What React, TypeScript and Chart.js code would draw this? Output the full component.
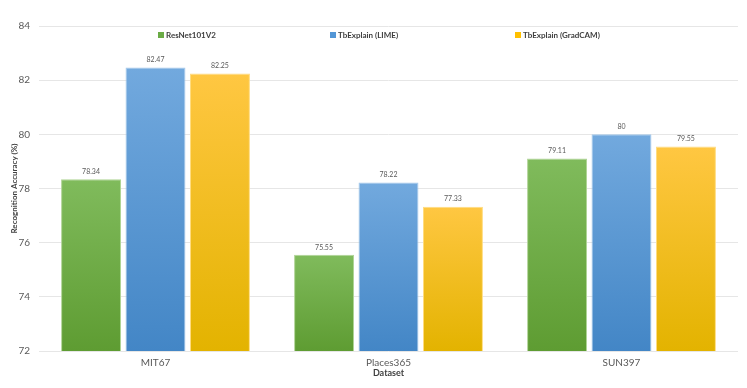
import React, { useEffect, useRef } from "react";
import { Chart, registerables } from "chart.js";
Chart.register(...registerables);

const categories = ["MIT67", "Places365", "SUN397"];
const resnetValues = [78.34, 75.55, 79.11];
const limeValues = [82.47, 78.22, 80];
const gradcamValues = [82.25, 77.33, 79.55];
const seriesNames = ["ResNet101V2", "TbExplain (LIME)", "TbExplain (GradCAM)"];
const yMin = 72;
const yMax = 84;
const yStep = 2;

const FONT = "Lato, 'Open Sans', sans-serif";

const palettes = [
  { top: "#80bb5c", bottom: "#5e9c32", border: "#b0d496", legend: "#6aab45" },
  { top: "#72a9de", bottom: "#4386c6", border: "#a4c8ea", legend: "#5396d6" },
  { top: "#ffc742", bottom: "#e3b300", border: "#ffdc80", legend: "#ffc000" },
];

function gradientFor(idx: number) {
  return (ctx: any) => {
    const chart = ctx.chart;
    const area = chart.chartArea;
    const p = palettes[idx];
    if (!area || ctx.raw === undefined) return p.legend;
    const y = chart.scales.y;
    const top = y.getPixelForValue(ctx.raw);
    const bottom = y.getPixelForValue(yMin);
    const g = chart.ctx.createLinearGradient(0, top, 0, bottom);
    g.addColorStop(0, p.top);
    g.addColorStop(1, p.bottom);
    return g;
  };
}

const legendX = [158, 330, 515];

const customPlugin = {
  id: "custom",
  afterDatasetsDraw(chart: any) {
    const c = chart.ctx;
    c.save();
    // value labels
    c.font = `7px ${FONT}`;
    c.fillStyle = "#595959";
    c.textAlign = "center";
    c.textBaseline = "bottom";
    chart.data.datasets.forEach((ds: any, i: number) => {
      const meta = chart.getDatasetMeta(i);
      meta.data.forEach((bar: any, j: number) => {
        c.fillText(String(ds.data[j]), bar.x, bar.y - 4);
      });
    });
    // legend
    c.font = `bold 8px ${FONT}`;
    c.textAlign = "left";
    c.textBaseline = "middle";
    chart.data.datasets.forEach((ds: any, i: number) => {
      const x = legendX[i];
      const y = 35;
      c.fillStyle = palettes[i].legend;
      c.fillRect(x, y - 3, 6, 6);
      c.fillStyle = "#404040";
      c.fillText(ds.label, x + 8, y + 0.5);
    });
    c.restore();
  },
};

export default function App() {
  const ref = useRef<HTMLCanvasElement | null>(null);
  useEffect(() => {
    document.body.style.margin = "0";
    const canvas = ref.current!;
    const datasets = [resnetValues, limeValues, gradcamValues].map((d, i) => ({
      label: seriesNames[i],
      data: d,
      backgroundColor: gradientFor(i),
      borderColor: palettes[i].border,
      borderWidth: 1,
      categoryPercentage: 0.83,
      barPercentage: 0.93,
    }));
    const chart = new Chart(canvas, {
      type: "bar",
      data: { labels: categories, datasets },
      plugins: [customPlugin],
      options: {
        animation: false,
        responsive: false,
        maintainAspectRatio: false,
        layout: { padding: { left: 0, right: 9, top: 26, bottom: 0 } },
        plugins: { legend: { display: false }, tooltip: { enabled: false } },
        scales: {
          x: {
            grid: { display: false, drawTicks: false },
            border: { display: false },
            ticks: { color: "#595959", font: { family: FONT, size: 10 }, padding: 6 },
            title: {
              display: true,
              text: "Dataset",
              color: "#404040",
              font: { family: FONT, size: 9, weight: "bold" },
              padding: { top: 0, bottom: 10 },
            },
            afterFit: (s: any) => { s.height = 37; },
          },
          y: {
            min: yMin,
            max: yMax,
            grid: { color: "#e6e6e6", drawTicks: false },
            border: { display: false },
            ticks: { stepSize: yStep, color: "#595959", font: { family: FONT, size: 10 }, padding: 9 },
            title: {
              display: true,
              text: "Recognition Accuracy (%)",
              color: "#404040",
              font: { family: FONT, size: 8, weight: "bold" },
              padding: { top: 10, bottom: 0 },
            },
            afterFit: (s: any) => { s.width = 39; },
          },
        },
      },
    } as any);
    return () => chart.destroy();
  }, []);
  return (
    <div style={{ width: 747, height: 388 }}>
      <canvas ref={ref} width={747} height={388} style={{ display: "block" }} />
    </div>
  );
}
